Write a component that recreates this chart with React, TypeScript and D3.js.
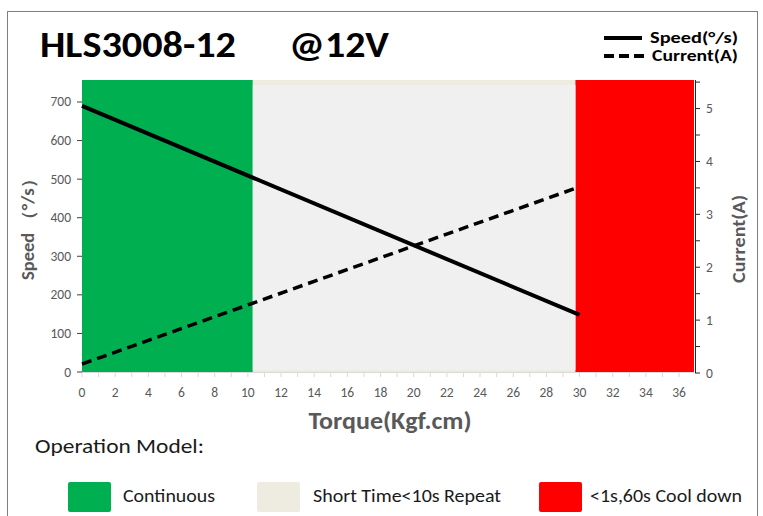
import React from 'react';
import * as d3 from 'd3';

// torque (Kgf.cm) vs speed / current
const torque = [0, 30];
const speed = [690, 148];
const current = [0.17, 3.52];

const zoneNames = ['Continuous', 'Short Time<10s Repeat', '<1s,60s Cool down'];
const zoneStart = [0, 10.3, 29.75];
const zoneEnd = [10.3, 29.75, 36.9];
const zoneColors = ['#00b050', '#eeece1', '#ff0000'];

const xTicks = d3.range(0, 37, 2);
const speedTicks = d3.range(0, 701, 100);
const currentTicks = d3.range(0, 6, 1);

const W = 763;
const H = 516;
const plot = { left: 82, right: 694, top: 80, bottom: 372 };
const font = 'Carlito, Lato, "Open Sans", sans-serif';
const axisGrey = '#595959';

const App = () => {
  const x = d3.scaleLinear().domain([0, 36.9]).range([plot.left, plot.right]);
  const yL = d3.scaleLinear().domain([0, 757]).range([plot.bottom, plot.top]);
  const yR = d3.scaleLinear().domain([0, 5.54]).range([plot.bottom + 1, plot.top]);

  const speedLine = d3
    .line<number>()
    .x((_, i) => x(torque[i]))
    .y((d) => yL(d));
  const currentLine = d3
    .line<number>()
    .x((_, i) => x(torque[i]))
    .y((d) => yR(d));

  return (
    <svg
      width={W}
      height={H}
      style={{ position: 'fixed', left: 0, top: 0, background: '#fff' }}
      fontFamily={font}
    >
      {/* frame */}
      <rect x={7.5} y={11.5} width={750} height={520} fill="none" stroke="#7f7f7f" strokeWidth={1} />

      {/* title */}
      <text x={40} y={57} fontSize={37} fontWeight="bold" fill="#000" textLength={196} lengthAdjust="spacingAndGlyphs">
        HLS3008-12
      </text>
      <text x={289} y={57} fontSize={37} fontWeight="bold" fill="#000" textLength={100} lengthAdjust="spacingAndGlyphs">
        @12V
      </text>

      {/* line legend */}
      <line x1={604} x2={642} y1={38} y2={38} stroke="#000" strokeWidth={4} />
      <text x={650} y={43} fontSize={15} fontWeight="bold" textLength={88} lengthAdjust="spacingAndGlyphs">
        Speed(°/s)
      </text>
      <line x1={604} x2={644} y1={56} y2={56} stroke="#000" strokeWidth={4} strokeDasharray="10,5" />
      <text x={652} y={61} fontSize={15} fontWeight="bold" textLength={86} lengthAdjust="spacingAndGlyphs">
        Current(A)
      </text>

      {/* operating zones */}
      {zoneStart.map((s, i) => (
        <rect
          key={'z' + i}
          x={x(s)}
          y={plot.top}
          width={x(zoneEnd[i]) - x(s)}
          height={plot.bottom - plot.top}
          fill={zoneColors[i]}
        />
      ))}
      <rect
        x={x(zoneStart[1])}
        y={plot.top + 5}
        width={x(zoneEnd[1]) - x(zoneStart[1])}
        height={plot.bottom - plot.top - 7}
        fill="#f0f0f0"
      />

      {/* x axis */}
      <line x1={plot.left} x2={plot.right} y1={plot.bottom + 0.5} y2={plot.bottom + 0.5} stroke="#d9d9d9" />
      {d3.range(0, 37, 1).map((t) => (
        <line key={'xt' + t} x1={x(t)} x2={x(t)} y1={plot.bottom} y2={plot.bottom + 5} stroke="#d9d9d9" />
      ))}
      {xTicks.map((t) => (
        <text key={'xl' + t} x={x(t)} y={397} fontSize={13.5} fill={axisGrey} textAnchor="middle">
          {t}
        </text>
      ))}
      <text x={390} y={429} fontSize={24} fontWeight="bold" fill={axisGrey} textAnchor="middle" textLength={163} lengthAdjust="spacingAndGlyphs">
        Torque(Kgf.cm)
      </text>

      {/* left axis */}
      {speedTicks.map((t) => (
        <g key={'yl' + t}>
          <line x1={plot.left - 5} x2={plot.left} y1={yL(t)} y2={yL(t)} stroke="#404040" />
          <text x={plot.left - 11} y={yL(t) + 4.5} fontSize={13.5} fill={axisGrey} textAnchor="end">
            {t}
          </text>
        </g>
      ))}
      <text
        transform={`translate(34,${225}) rotate(-90)`}
        fontSize={17}
        fontWeight="bold"
        fill={axisGrey}
        textAnchor="middle"
        textLength={110}
        lengthAdjust="spacingAndGlyphs"
      >
        Speed （°/s）
      </text>

      {/* right axis */}
      <line x1={plot.right + 1.5} x2={plot.right + 1.5} y1={plot.top} y2={plot.bottom + 1} stroke="#262626" />
      {d3.range(0, 5.6, 0.5).map((t) => (
        <line key={'yrt' + t} x1={plot.right + 1} x2={plot.right + 6} y1={yR(t)} y2={yR(t)} stroke="#262626" />
      ))}
      {currentTicks.map((t) => (
        <text key={'yr' + t} x={plot.right + 12} y={yR(t) + 4.5} fontSize={13.5} fill={axisGrey}>
          {t}
        </text>
      ))}
      <text
        transform={`translate(745,${239}) rotate(-90)`}
        fontSize={17}
        fontWeight="bold"
        fill={axisGrey}
        textAnchor="middle"
        textLength={88}
        lengthAdjust="spacingAndGlyphs"
      >
        Current(A)
      </text>

      {/* curves */}
      <path d={speedLine(speed) ?? ''} fill="none" stroke="#000" strokeWidth={4} />
      <path d={currentLine(current) ?? ''} fill="none" stroke="#000" strokeWidth={3.5} strokeDasharray="10,6" />

      {/* operation model legend */}
      <text x={35} y={453} fontSize={21} fill="#1a1a1a" textLength={169} lengthAdjust="spacingAndGlyphs">
        Operation Model:
      </text>
      {zoneNames.map((n, i) => {
        const sx = [68, 257, 539][i];
        const tx = [123, 313, 590][i];
        const tl = [92, 188, 152][i];
        return (
          <g key={'lg' + i}>
            <rect x={sx} y={482} width={43} height={30} rx={2} fill={zoneColors[i]} />
            <text x={tx} y={502} fontSize={18} fill="#1a1a1a" textLength={tl} lengthAdjust="spacingAndGlyphs">
              {n}
            </text>
          </g>
        );
      })}
    </svg>
  );
};

export default App;
